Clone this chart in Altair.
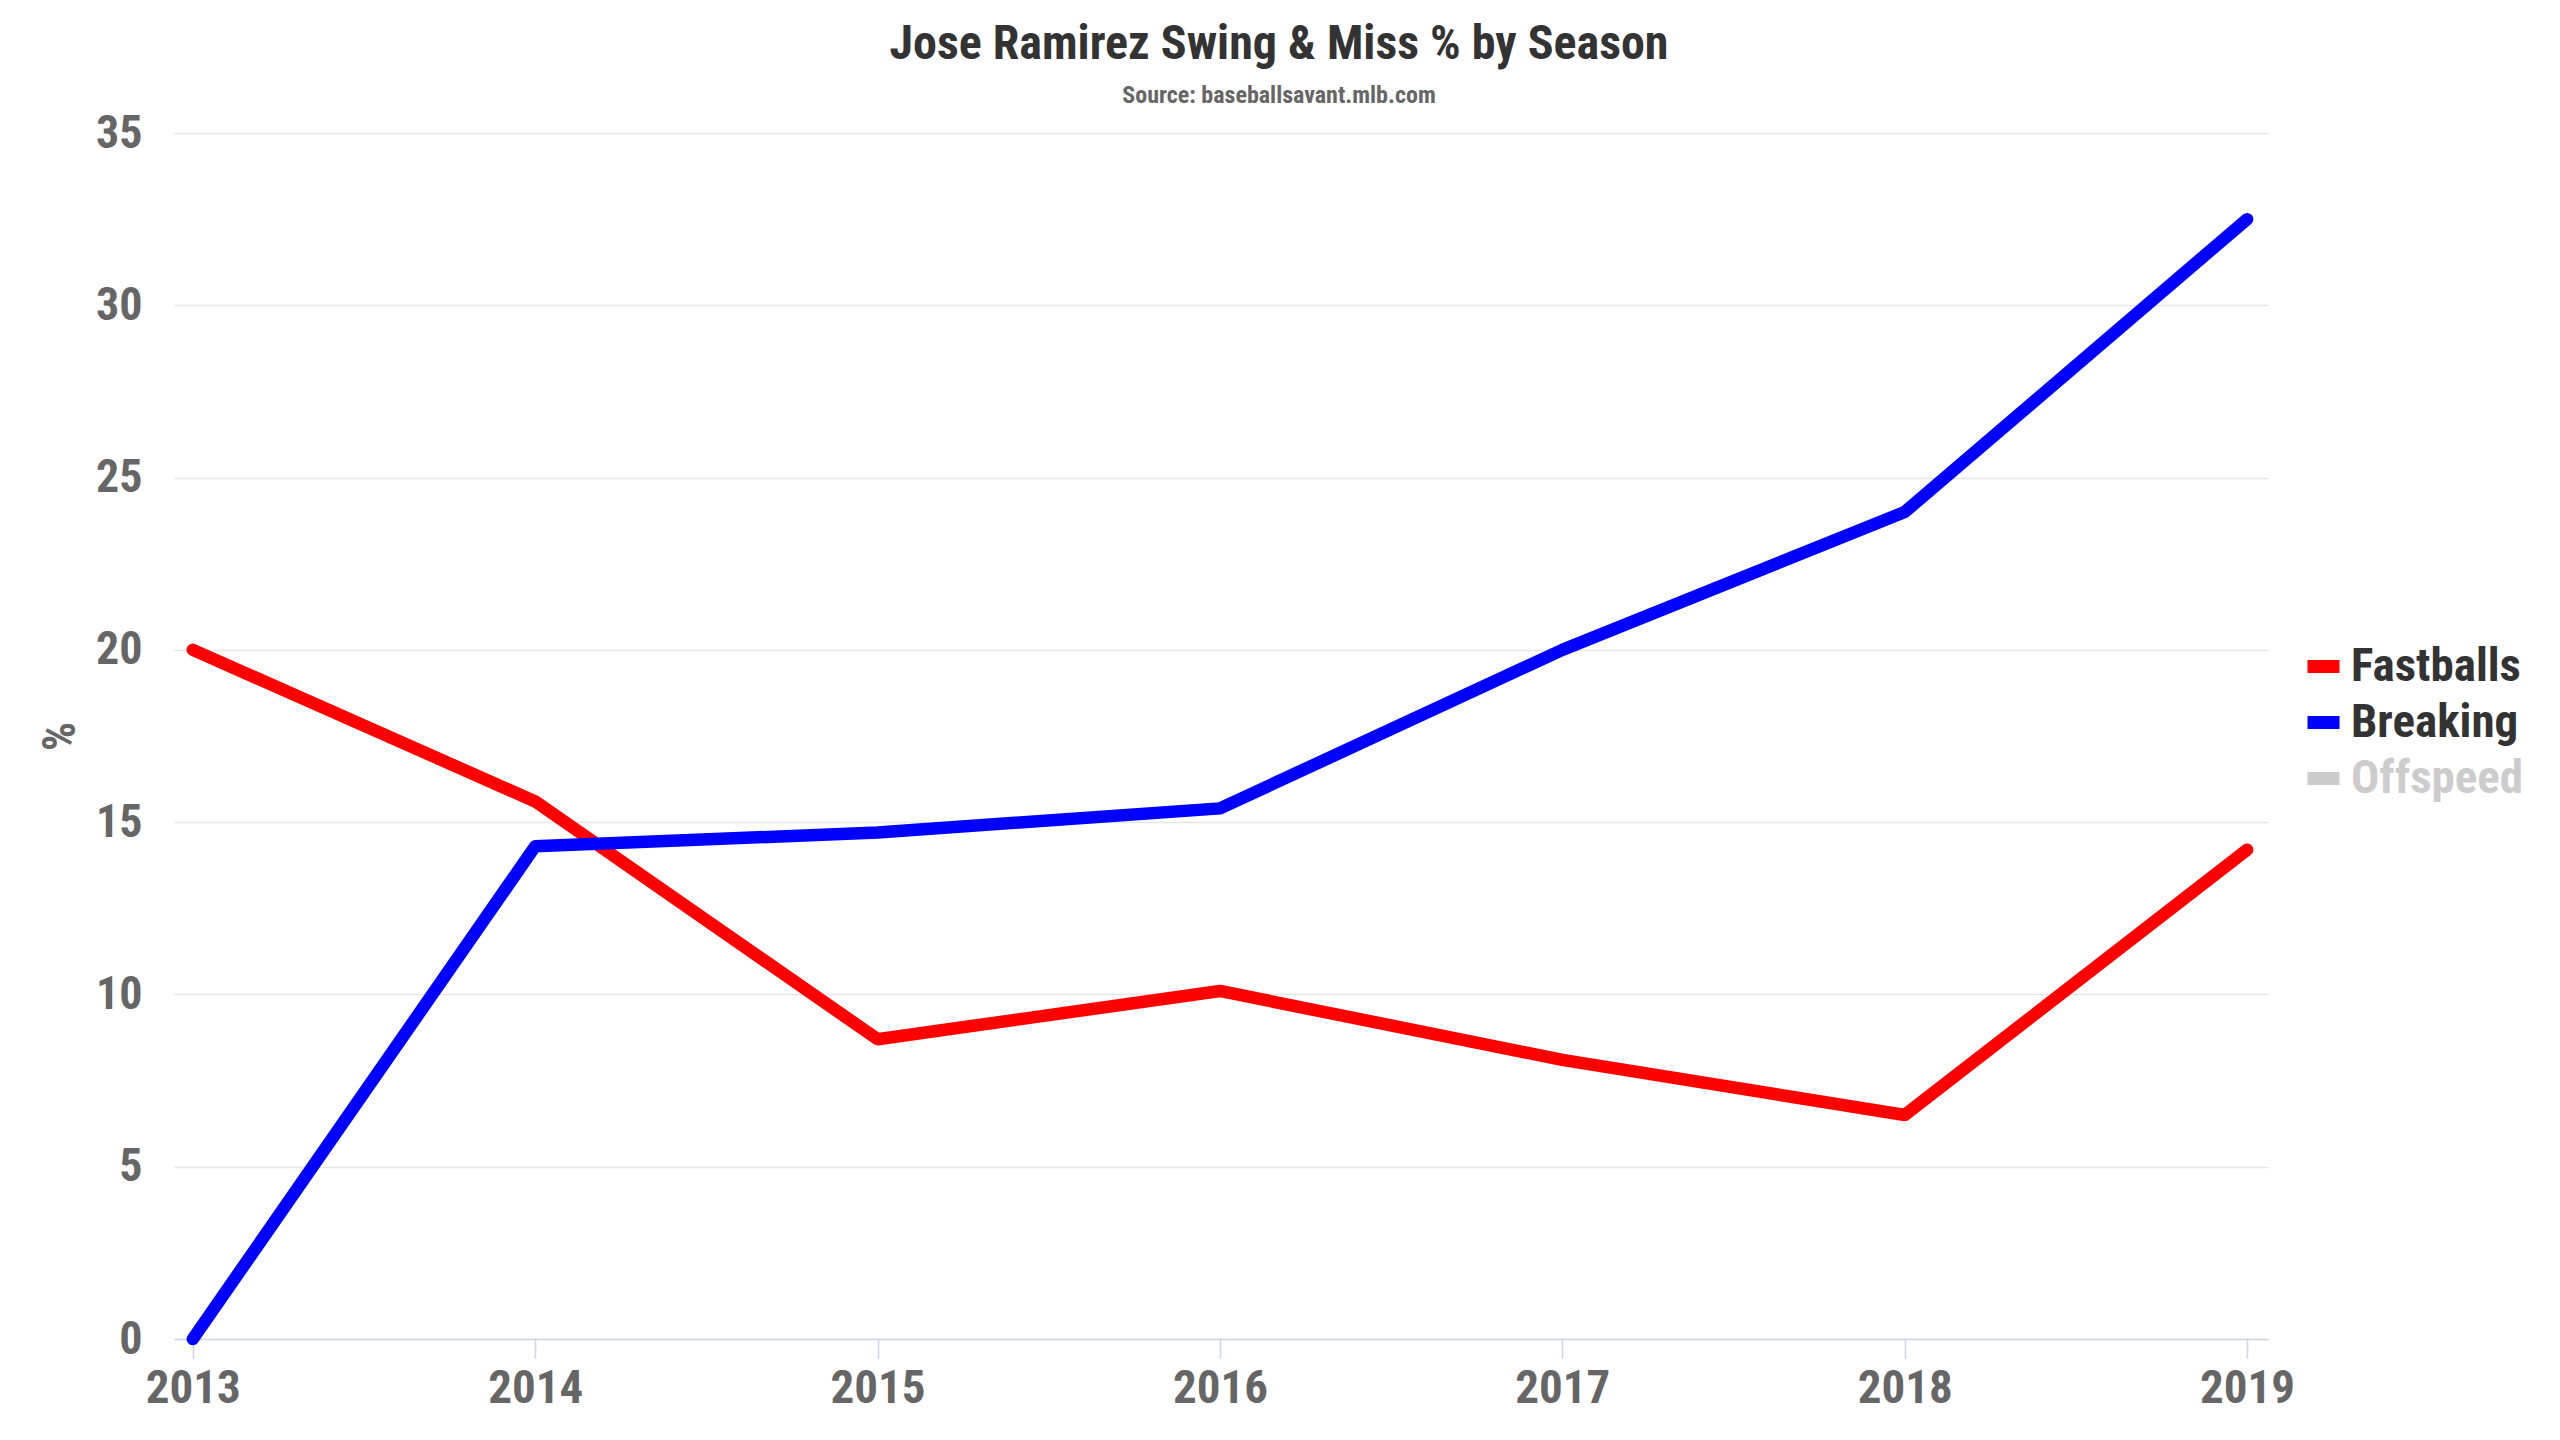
import altair as alt
import pandas as pd

seasons = [2013, 2014, 2015, 2016, 2017, 2018, 2019]
fastballs = [20.0, 15.6, 8.7, 10.1, 8.1, 6.5, 14.2]
breaking = [0.0, 14.3, 14.7, 15.4, 20.0, 24.0, 32.5]
series_names = ["Fastballs", "Breaking", "Offspeed"]
series_colors = ["#ff0000", "#0000ff", "#cccccc"]
y_ticks = [0, 5, 10, 15, 20, 25, 30, 35]

rows = []
for name, vals in [("Fastballs", fastballs), ("Breaking", breaking)]:
    for s, v in zip(seasons, vals):
        rows.append({"season": s, "pct": v, "pitch": name})
df = pd.DataFrame(rows)

FONT = "'Roboto Condensed', 'Liberation Sans Narrow', Roboto, sans-serif"

chart = alt.Chart(df).mark_line(
    strokeWidth=12.5, strokeCap="round", strokeJoin="round"
).encode(
    x=alt.X(
        "season:Q",
        scale=alt.Scale(domain=[2012.945, 2019.061], nice=False, zero=False),
        axis=alt.Axis(
            values=seasons, format="d", title=None, grid=False,
            labelFlush=False, labelFontSize=47, labelColor="#666666",
            labelFontWeight="bold", labelFont=FONT, labelPadding=7,
            domainColor="#ccd6eb", domainWidth=1.6,
            tickColor="#ccd6eb", tickWidth=1.6, tickSize=19,
        ),
    ),
    y=alt.Y(
        "pct:Q",
        scale=alt.Scale(domain=[0, 35], nice=False),
        axis=alt.Axis(
            values=y_ticks, title="%", grid=True, gridColor="#e6e6e6",
            gridWidth=1.6, domain=False, ticks=False,
            labelFontSize=46, labelColor="#666666", labelFontWeight="bold",
            labelFont=FONT, labelPadding=32,
            titleFontSize=46, titleColor="#666666", titleFontWeight="bold",
            titleFont=FONT, titlePadding=11,
        ),
    ),
    color=alt.Color(
        "pitch:N",
        scale=alt.Scale(domain=series_names, range=series_colors),
        legend=alt.Legend(
            title=None, orient="none", legendX=2126, legendY=510,
            symbolType="stroke", symbolSize=1024, symbolStrokeWidth=13,
            labelFontSize=47, labelFont=FONT, labelFontWeight="bold",
            labelColor=alt.ExprRef("datum.label == 'Offspeed' ? '#cccccc' : '#333333'"),
            labelOffset=4, rowPadding=3, labelLimit=400,
        ),
    ),
).properties(
    width=2094,
    height=1206,
    background="white",
    title=alt.TitleParams(
        text="Jose Ramirez Swing & Miss % by Season",
        subtitle="Source: baseballsavant.mlb.com",
        anchor="middle", dx=58, offset=2,
        fontSize=48, font=FONT, fontWeight="bold", color="#333333",
        subtitleFontSize=24, subtitleFont=FONT, subtitleFontWeight="bold",
        subtitleColor="#666666", subtitlePadding=15,
    ),
    autosize=alt.AutoSizeParams(type="none"),
    padding={"left": 166, "top": 125, "right": 280, "bottom": 88},
).configure_view(strokeWidth=0)

chart.save("out.html", embed_options={"renderer": "svg", "actions": False})
